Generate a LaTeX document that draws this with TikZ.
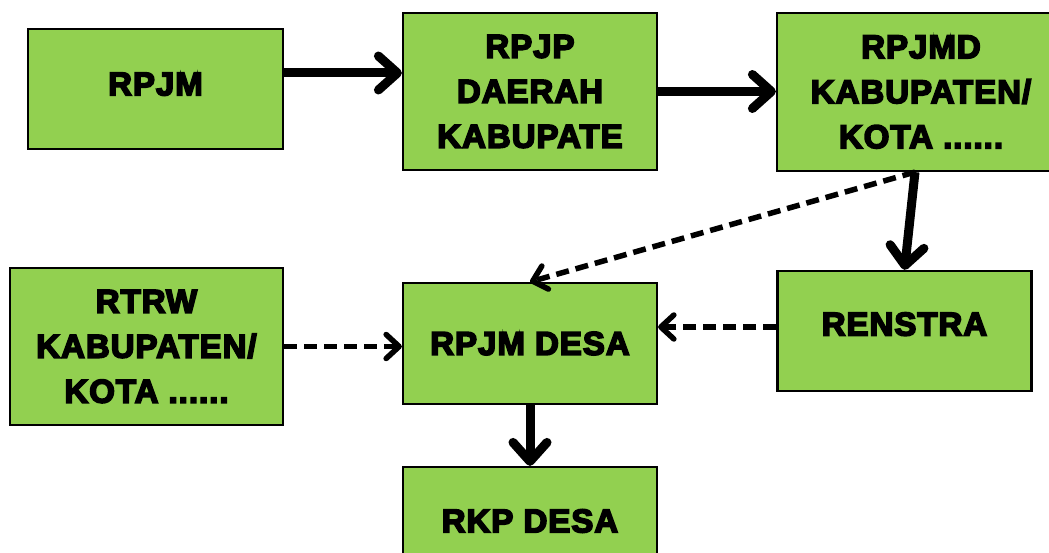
\documentclass[tikz,border=0pt]{standalone}
\usepackage{fontspec}
\newfontfamily\boxfont{Liberation Sans Bold}[FakeBold=5, LetterSpace=3]
\usetikzlibrary{arrows.meta}
\definecolor{boxgreen}{RGB}{146,208,80}

\begin{document}
\begin{tikzpicture}[x=1pt, y=-1pt,
    box/.style = {shape=rectangle, draw, line width=2.2pt, fill=boxgreen, align=center, inner sep=0pt, font=\boxfont\fontsize{33}{45}\selectfont},
    flow/.style = {line width=9pt, -{Straight Barb[length=19pt, width=34pt, round]}},
    link/.style = {line width=5.5pt, dash pattern=on 13pt off 7pt, -{Straight Barb[length=13pt, width=24pt, round]}}]
  \useasboundingbox (0,0) rectangle (1049,553);
  \clip (0,0) rectangle (1049,553);
  % top row
  \node[box, minimum width=255pt, minimum height=120pt, text depth=10pt] (rpjm) at (155.5,89) {RPJM};
  \node[box, minimum width=254pt, minimum height=157pt] (rpjp) at (530,91.5) {RPJP\\DAERAH\\KABUPATE};
  \node[box, minimum width=288pt, minimum height=158pt] (rpjmd) at (921,92) {RPJMD\\KABUPATEN/\\KOTA ......};
  % middle row
  \node[box, minimum width=273pt, minimum height=157pt] (rtrw) at (146.5,346.5) {RTRW\\KABUPATEN/\\KOTA ......};
  \node[box, minimum width=254pt, minimum height=121pt] (rpjmdesa) at (530,343.5) {RPJM DESA};
  \node[box, minimum width=254pt, minimum height=120pt, text depth=14pt] (renstra) at (904.5,331) {RENSTRA};
  % bottom
  \node[box, minimum width=254pt, minimum height=108pt] (rkpdesa) at (530,521) {RKP DESA};
  % connectors
  \draw[flow] ([yshift=16pt]rpjm.east) -- ([yshift=16pt]rpjm.east -| rpjp.west);
  \draw[flow] (rpjp.east) -- (rpjp.east -| rpjmd.west);
  \draw[flow] ([xshift=-6pt]rpjmd.south) -- (renstra.north);
  \draw[link] ([xshift=-6pt]rpjmd.south) -- (rpjmdesa.north);
  \draw[link] ([yshift=4pt]renstra.west) -- ([yshift=4pt]renstra.west -| rpjmdesa.east);
  \draw[link] (rtrw.east) -- (rtrw.east -| rpjmdesa.west);
  \draw[flow] (rpjmdesa.south) -- (rkpdesa.north);
\end{tikzpicture}
\end{document}
